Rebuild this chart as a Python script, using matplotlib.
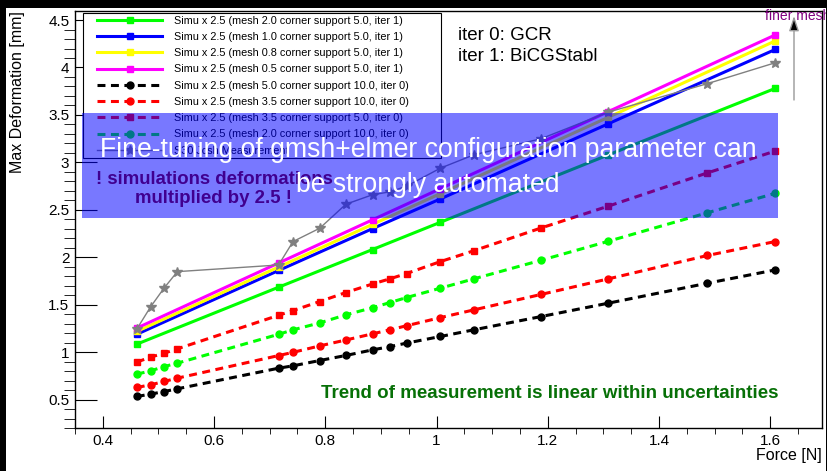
import matplotlib
matplotlib.use("Agg")
import matplotlib.pyplot as plt
from matplotlib.patches import Rectangle
from matplotlib.ticker import MultipleLocator

plt.rcParams['font.family'] = ['Liberation Sans', 'DejaVu Sans']

# force points (N)
force = [0.461, 0.486, 0.510, 0.534, 0.716, 0.742, 0.790, 0.837, 0.885,
         0.916, 0.946, 1.007, 1.067, 1.188, 1.309, 1.487, 1.609]
force_it1 = [0.461, 0.716, 0.885, 1.007, 1.309, 1.609]

# iter 1 simulations (x 2.5)
m20_cs5_it1 = [1.086, 1.686, 2.083, 2.370, 3.080, 3.780]
m10_cs5_it1 = [1.190, 1.862, 2.303, 2.616, 3.408, 4.190]
m08_cs5_it1 = [1.220, 1.898, 2.348, 2.672, 3.476, 4.280]
m05_cs5_it1 = [1.255, 1.941, 2.396, 2.724, 3.536, 4.343]

# iter 0 simulations (x 2.5)
m50_cs10_it0 = [0.535, 0.560, 0.587, 0.616, 0.833, 0.858, 0.914, 0.967, 1.026,
                1.060, 1.097, 1.167, 1.237, 1.377, 1.518, 1.728, 1.868]
m35_cs10_it0 = [0.630, 0.658, 0.693, 0.728, 0.966, 1.000, 1.068, 1.130, 1.195,
                1.237, 1.280, 1.366, 1.447, 1.610, 1.774, 2.020, 2.167]
m35_cs5_it0 = [0.897, 0.950, 0.990, 1.037, 1.390, 1.440, 1.535, 1.630, 1.720,
               1.774, 1.830, 1.956, 2.070, 2.310, 2.540, 2.890, 3.120]
m20_cs10_it0 = [0.770, 0.805, 0.850, 0.886, 1.190, 1.237, 1.310, 1.395, 1.470,
                1.524, 1.577, 1.676, 1.774, 1.970, 2.170, 2.470, 2.675]

# measurement
meas = [1.244, 1.480, 1.676, 1.850, 1.920, 2.167, 2.307, 2.560, 2.660,
        2.690, 2.750, 2.940, 3.080, 3.250, 3.530, 3.830, 4.050]

W, H = 828, 471
fig = plt.figure(figsize=(W / 100, H / 100), dpi=100)
fig.patch.set_facecolor('white')
ax = fig.add_axes([75 / W, 1 - 428.3 / H, (822 - 75) / W, (428.3 - 11) / H])

dash = (0, (2.6, 1.8))
solid_kw = dict(lw=2.2, marker='s', ms=5.0)
dash_kw = dict(lw=2.2, ls=dash, marker='o', ms=5.0)

ax.plot(force_it1, m20_cs5_it1, color='#00ff00', label='Simu x 2.5 (mesh 2.0 corner support 5.0, iter 1)', **solid_kw)
ax.plot(force_it1, m10_cs5_it1, color='#0000ff', label='Simu x 2.5 (mesh 1.0 corner support 5.0, iter 1)', **solid_kw)
ax.plot(force_it1, m08_cs5_it1, color='#ffff00', label='Simu x 2.5 (mesh 0.8 corner support 5.0, iter 1)', **solid_kw)
ax.plot(force_it1, m05_cs5_it1, color='#ff00ff', label='Simu x 2.5 (mesh 0.5 corner support 5.0, iter 1)', **solid_kw)
ax.plot(force, m50_cs10_it0, color='black', label='Simu x 2.5 (mesh 5.0 corner support 10.0, iter 0)', **dash_kw)
ax.plot(force, m35_cs10_it0, color='#ff0000', label='Simu x 2.5 (mesh 3.5 corner support 10.0, iter 0)', **dash_kw)
ax.plot(force, m35_cs5_it0, color='#ff0000', lw=2.2, ls=dash, marker='s', ms=5.0,
        label='Simu x 2.5 (mesh 3.5 corner support 5.0, iter 0)')
ax.plot(force, m20_cs10_it0, color='#00ff00', label='Simu x 2.5 (mesh 2.0 corner support 10.0, iter 0)', **dash_kw)
ax.plot(force, meas, color='#808080', lw=1.0, marker='*', ms=7, label='S30 Jcsh Measurement')

ax.set_xlim(0.35, 1.693)
ax.set_ylim(0.2, 4.595)
ax.xaxis.set_major_locator(MultipleLocator(0.2))
ax.xaxis.set_minor_locator(MultipleLocator(0.05))
ax.yaxis.set_major_locator(MultipleLocator(0.5))
ax.yaxis.set_minor_locator(MultipleLocator(0.1))
ax.tick_params(direction='in', labelsize=11, width=0.8)
ax.tick_params(axis='y', which='major', length=15.5, pad=4)
ax.tick_params(axis='y', which='minor', length=8)
ax.tick_params(axis='x', which='major', length=8.5, pad=4)
ax.tick_params(axis='x', which='minor', length=4.3)
ax.xaxis.set_major_formatter(plt.FuncFormatter(lambda v, p: f'{v:g}'))
ax.yaxis.set_major_formatter(plt.FuncFormatter(lambda v, p: f'{v:g}'))
for s in ax.spines.values():
    s.set_linewidth(1.0)

ax.set_xlabel('Force [N]', fontsize=11.5, loc='right')
ax.xaxis.set_label_coords(1.0, -0.048)
fig.text(18 / W, 1 - 11 / H, 'Max Deformation [mm]', fontsize=11.5, rotation=90,
         ha='center', va='top')

# legend with a square frame
ax.add_patch(Rectangle((83 / W, 1 - 158 / H), (441 - 83) / W, (158 - 13) / H,
                       transform=fig.transFigure, facecolor='white', edgecolor='black',
                       lw=0.8, zorder=4, clip_on=False))
ax.legend(loc='upper left', bbox_to_anchor=(97 / W, 1 - 15.5 / H), bbox_transform=fig.transFigure,
          frameon=False, fontsize=7.8, borderpad=0, borderaxespad=0, handlelength=6.0,
          handletextpad=1.1, labelspacing=0.58, numpoints=1).set_zorder(5)

ax.text(458 / W, 1 - 46 / H, 'iter 0: GCR\niter 1: BiCGStabl', transform=fig.transFigure,
        fontsize=13.5, ha='left', va='center', linespacing=1.3)
ax.text(765 / W, 1 - 20 / H, 'finer mesh', transform=fig.transFigure, fontsize=10,
        color='#800080', ha='left', va='baseline', clip_on=False)
ax.annotate('', xy=(794 / W, 1 - 16 / H), xytext=(794 / W, 1 - 100 / H),
            xycoords='figure fraction', textcoords='figure fraction',
            arrowprops=dict(arrowstyle='-|>,head_length=0.9,head_width=0.3',
                            fc='black', ec='0.6', lw=1.0, shrinkA=0, shrinkB=0))
ax.text(550 / W, 1 - 394 / H, 'Trend of measurement is linear within uncertainties',
        transform=fig.transFigure, fontsize=13.5, fontweight='bold', color='#077007',
        ha='center', va='center')

# translucent slide overlay
fig.patches.append(Rectangle((81.7 / W, 1 - 217.7 / H), (777.7 - 81.7) / W, (217.7 - 113.3) / H,
                             transform=fig.transFigure, facecolor='#0000ff', alpha=0.53,
                             edgecolor='none', zorder=1))
fig.text(214 / W, 1 - 189 / H, '! simulations deformations\nmultiplied by 2.5 !',
         fontsize=13.4, fontweight='bold', color='#400090', ha='center', va='center',
         linespacing=1.12, zorder=2)
fig.text(428 / W, 1 - 168 / H, 'Fine-tuning of gmsh+elmer configuration parameter can\nbe strongly automated',
         fontsize=19.2, color='white', ha='center', va='center', linespacing=1.45, zorder=3)

# black slide border
for r in [(0, 0, 6, H), (0, H - 8, W, 8), (826, 0, 2, H)]:
    fig.patches.append(Rectangle((r[0] / W, r[1] / H), r[2] / W, r[3] / H,
                                 transform=fig.transFigure, facecolor='black',
                                 edgecolor='none', zorder=10))

fig.savefig('out.png', dpi=100)
